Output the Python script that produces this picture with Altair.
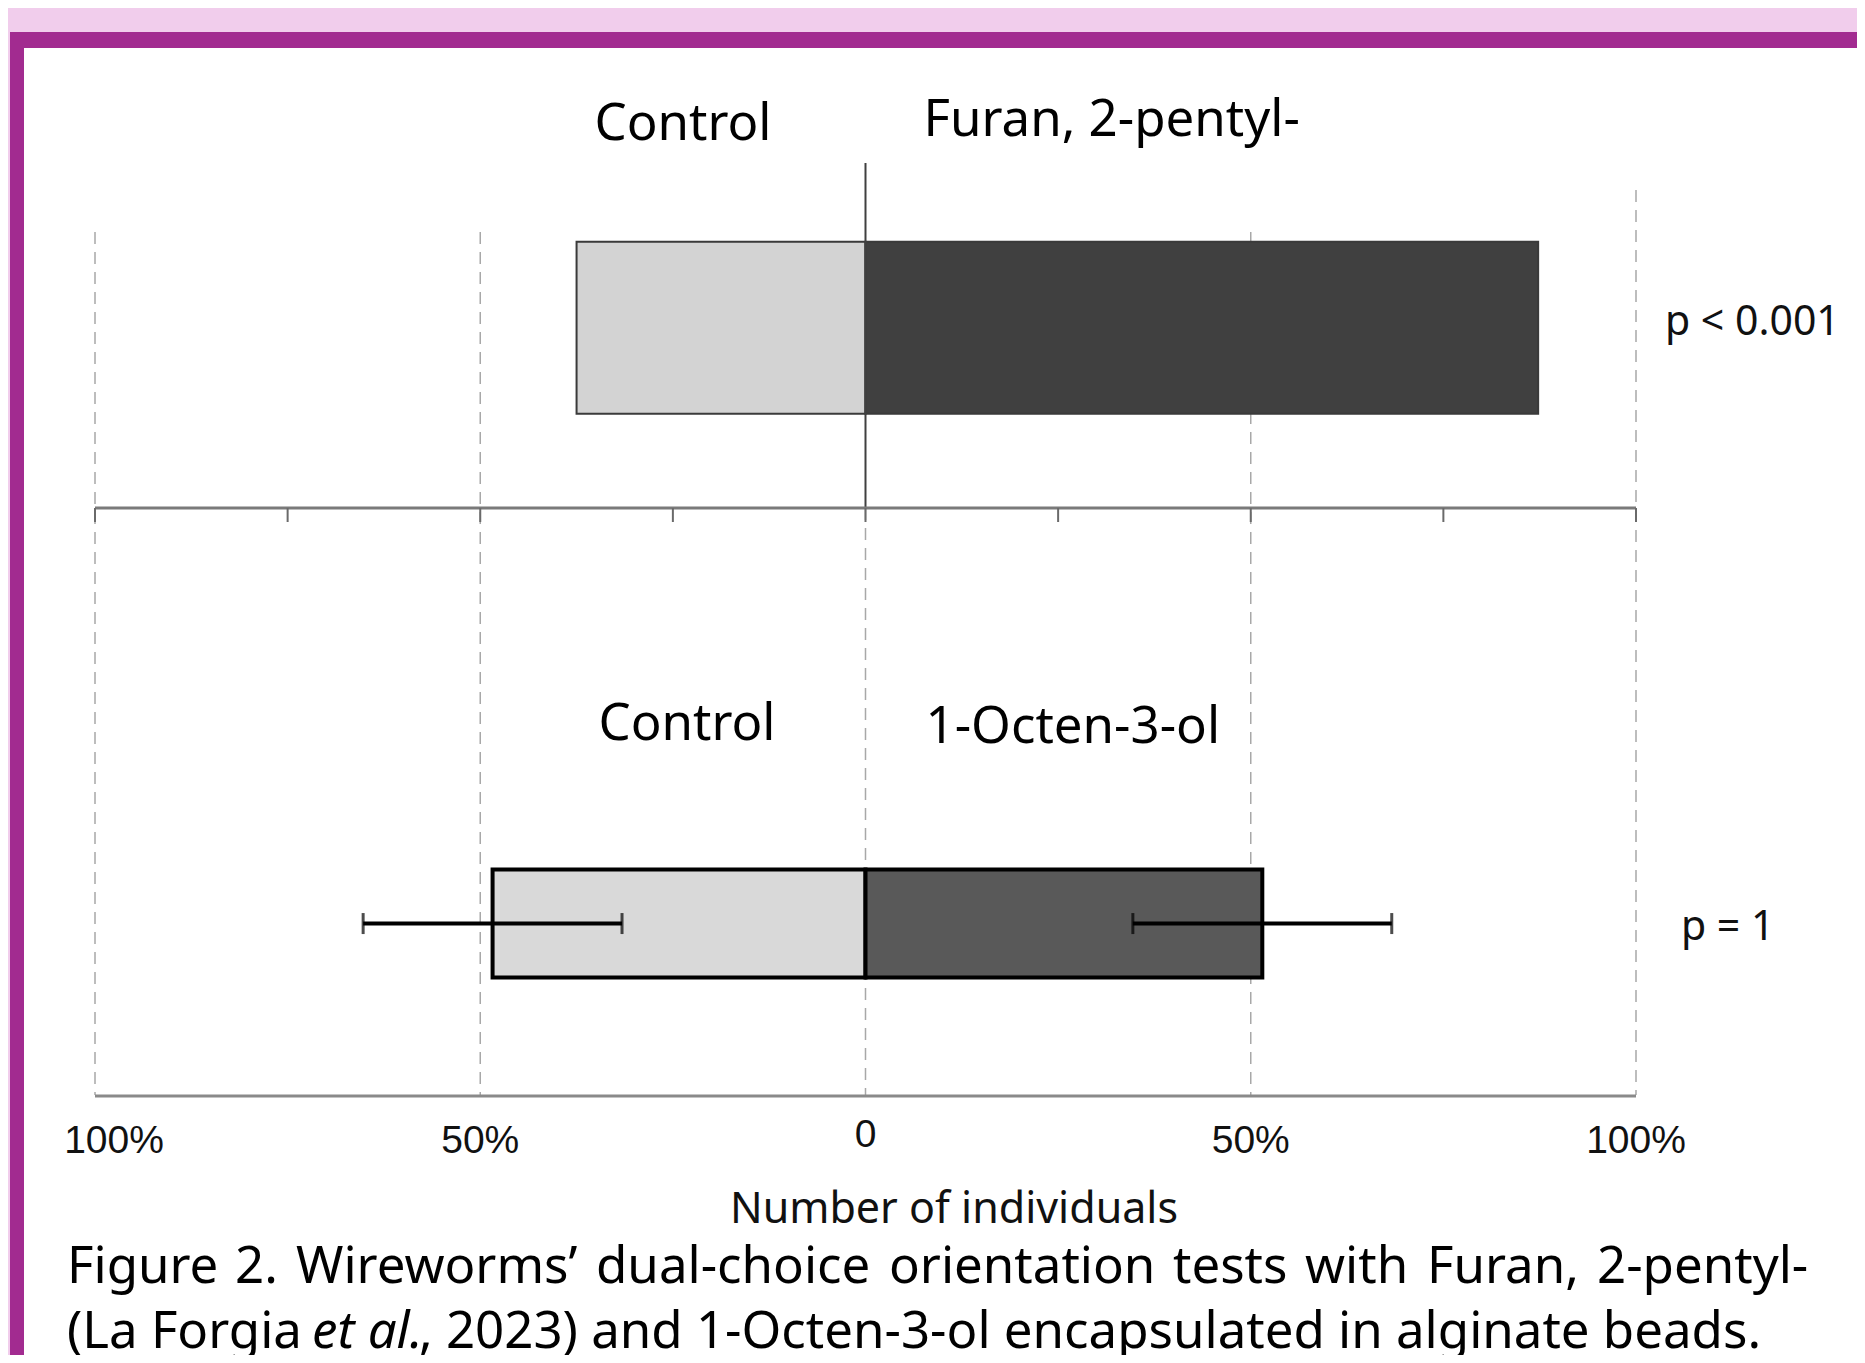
import altair as alt
import pandas as pd

# ---------------- data ----------------
tests = ["Furan, 2-pentyl-", "1-Octen-3-ol"]
control_pct = [37.5, 48.4]
treatment_pct = [87.3, 51.5]
control_sd = [None, 16.8]
treatment_sd = [None, 16.8]
p_labels = ["p < 0.001", "p = 1"]
control_labels = ["Control", "Control"]
axis_ticks = [-100, -75, -50, -25, 0, 25, 50, 75, 100]
grid_values = [-100, -50, 0, 50, 100]
tick_labels = ["100%", "50%", "0", "50%", "100%"]
axis_title = "Number of individuals"
caption_line1 = "Figure 2. Wireworms\u2019 dual-choice orientation tests with Furan, 2-pentyl-"
caption_line2 = ["(La Forgia ", "et al.", ", 2023) and 1-Octen-3-ol encapsulated in alginate beads."]

# layout only: left edge (px) of each word of the justified first caption line
caption_word_x = [59, 227, 288, 588, 881, 1165, 1297, 1419, 1589]

# ---------------- tables ----------------
bar_rows = []
for t, c, tr in zip(tests, control_pct, treatment_pct):
    bar_rows.append({"test": t, "side": "Control", "start": -c, "end": 0, "key": t + "|Control"})
    bar_rows.append({"test": t, "side": "Treatment", "start": 0, "end": tr, "key": t + "|Treatment"})
bars_df = pd.DataFrame(bar_rows)

err_rows = []
for t, c, tr, cs, ts in zip(tests, control_pct, treatment_pct, control_sd, treatment_sd):
    if cs is not None:
        err_rows.append({"test": t, "lo": -(c + cs), "hi": -(c - cs)})
    if ts is not None:
        err_rows.append({"test": t, "lo": tr - ts, "hi": tr + ts})
err_df = pd.DataFrame(err_rows)

label_df = pd.DataFrame({"test": tests, "control": control_labels, "p": p_labels})
tick_df = pd.DataFrame({"v": axis_ticks})
grid_df = pd.DataFrame({"v": grid_values, "label": tick_labels})
extent_df = pd.DataFrame({"lo": [min(grid_values)], "hi": [max(grid_values)]})
text_df = pd.DataFrame({
    "t": [axis_title] + caption_line2,
    "part": ["title", "cap2a", "cap2b", "cap2c"],
})
words_df = pd.DataFrame({"w": caption_line1.split(" "), "px": caption_word_x})

W, H = 1849, 1347
FONT = "Noto Sans"
xs = alt.Scale(domain=[-100, 100], range=[87, 1628], nice=False, zero=False)
ys = alt.Scale(domain=tests, range=[21.7, 1213.5], paddingInner=0, paddingOuter=0)

PINK = "#f1cdec"
PURPLE = "#a22b90"

blank = alt.Chart(extent_df)

# frame decoration
pink_top = blank.mark_rect(color=PINK).encode(
    x=alt.value(0), x2=alt.value(W), y=alt.value(0), y2=alt.value(26))
pink_left = blank.mark_rect(color=PINK).encode(
    x=alt.value(0), x2=alt.value(2), y=alt.value(0), y2=alt.value(H))
purple_top = blank.mark_rect(color=PURPLE).encode(
    x=alt.value(2), x2=alt.value(W), y=alt.value(24), y2=alt.value(40))
purple_left = blank.mark_rect(color=PURPLE).encode(
    x=alt.value(2), x2=alt.value(16), y=alt.value(24), y2=alt.value(H))

XV = alt.X("v:Q", scale=xs, axis=None)
YT = alt.Y("test:N", scale=ys, axis=None)

# gridlines
grid_style = dict(color="#a8a8a8", strokeWidth=1.5, strokeDash=[12, 8])
grid_mid = alt.Chart(grid_df).transform_filter(
    "datum.v == -100 || datum.v == -50 || datum.v == 50").mark_rule(**grid_style).encode(
    x=XV, y=alt.value(224), y2=alt.value(1087))
grid_right = alt.Chart(grid_df).transform_filter("datum.v == 100").mark_rule(**grid_style).encode(
    x=XV, y=alt.value(182), y2=alt.value(1087))
grid_zero = alt.Chart(grid_df).transform_filter("datum.v == 0").mark_rule(**grid_style).encode(
    x=XV, y=alt.value(500), y2=alt.value(1087))

# top axis with ticks
top_axis = blank.mark_rule(color="#7a7a7a", strokeWidth=3).encode(
    x=alt.X("lo:Q", scale=xs, axis=None), x2="hi:Q", y=alt.value(500))
top_ticks = alt.Chart(tick_df).mark_rule(color="#6a6a6a", strokeWidth=2).encode(
    x=XV, y=alt.value(500), y2=alt.value(514))
zero_line = alt.Chart(grid_df).transform_filter("datum.v == 0").mark_rule(
    color="#404040", strokeWidth=2).encode(x=XV, y=alt.value(155), y2=alt.value(500))

# bottom axis
bottom_axis = blank.mark_rule(color="#8a8a8a", strokeWidth=3).encode(
    x=alt.X("lo:Q", scale=xs, axis=None), x2="hi:Q", y=alt.value(1088))

# bars
bar_keys = [tests[0] + "|Control", tests[0] + "|Treatment", tests[1] + "|Control", tests[1] + "|Treatment"]
bar_colors = ["#d3d3d3", "#404040", "#d9d9d9", "#595959"]
bar_enc = dict(
    x=alt.X("start:Q", scale=xs, axis=None),
    x2="end:Q",
    y=YT,
    color=alt.Color("key:N", scale=alt.Scale(domain=bar_keys, range=bar_colors), legend=None),
)
bars_top = alt.Chart(bars_df).transform_filter(alt.datum.test == tests[0]).mark_bar(
    size=172, stroke="#3a3a3a", strokeWidth=2).encode(**bar_enc)
bars_bot = alt.Chart(bars_df).transform_filter(alt.datum.test == tests[1]).mark_bar(
    size=108, stroke="#000000", strokeWidth=4).encode(**bar_enc)

# error bars
err_rule = alt.Chart(err_df).mark_rule(color="#000000", strokeWidth=4).encode(
    x=alt.X("lo:Q", scale=xs, axis=None), x2="hi:Q", y=YT)
err_lo = alt.Chart(err_df).mark_tick(color="#000000", thickness=3, size=21, orient="vertical").encode(
    x=alt.X("lo:Q", scale=xs, axis=None), y=YT)
err_hi = alt.Chart(err_df).mark_tick(color="#000000", thickness=3, size=21, orient="vertical").encode(
    x=alt.X("hi:Q", scale=xs, axis=None), y=YT)

# labels above bars
lbl = alt.Chart(label_df).transform_calculate(zero="0", full="100")
lbl_top = lbl.transform_filter(alt.datum.test == tests[0])
lbl_bot = lbl.transform_filter(alt.datum.test == tests[1])
LB = dict(font=FONT, fontSize=51, baseline="alphabetic", color="#000000")
XZ = alt.X("zero:Q", scale=xs, axis=None)
XF = alt.X("full:Q", scale=xs, axis=None)
ctrl_top = lbl_top.mark_text(align="right", dx=-94, dy=-188, **LB).encode(x=XZ, y=YT, text="control:N")
ctrl_bot = lbl_bot.mark_text(align="right", dx=-90, dy=-184, **LB).encode(x=XZ, y=YT, text="control:N")
test_top = lbl_top.mark_text(align="left", dx=58, dy=-192, **LB).encode(x=XZ, y=YT, text="test:N")
test_bot = lbl_bot.mark_text(align="left", dx=60, dy=-181, **LB).encode(x=XZ, y=YT, text="test:N")
PB = dict(font=FONT, fontSize=41, align="left", baseline="middle", color="#111111")
p_top = lbl_top.mark_text(dx=29, dy=-5, **PB).encode(x=XF, y=YT, text="p:N")
p_bot = lbl_bot.mark_text(dx=45, dy=4, **PB).encode(x=XF, y=YT, text="p:N")

# tick labels
TL = dict(font="Liberation Sans", fontSize=39, align="center", baseline="alphabetic", color="#111111")
tl_mid = alt.Chart(grid_df).transform_filter("datum.v != -100 && datum.v != 0").mark_text(**TL).encode(
    x=XV, y=alt.value(1145), text="label:N")
tl_left = alt.Chart(grid_df).transform_filter("datum.v == -100").mark_text(dx=19, **TL).encode(
    x=XV, y=alt.value(1145), text="label:N")
tl_zero = alt.Chart(grid_df).transform_filter("datum.v == 0").mark_text(**TL).encode(
    x=XV, y=alt.value(1139), text="label:N")

txt = alt.Chart(text_df)
title_text = txt.transform_filter("datum.part == 'title'").mark_text(
    font=FONT, fontSize=43, align="center", baseline="alphabetic", color="#111111").encode(
    x=alt.value(946), y=alt.value(1215), text="t:N")

CAP = dict(font=FONT, fontSize=51, baseline="alphabetic", color="#000000")
def cap(part, x, y, align="left", **kw):
    return txt.transform_filter(f"datum.part == '{part}'").mark_text(align=align, **CAP, **kw).encode(
        x=alt.value(x), y=alt.value(y), text="t:N")

cap1 = alt.Chart(words_df).mark_text(align="left", **CAP).encode(
    x=alt.X("px:Q", scale=None), y=alt.value(1275), text="w:N")
cap2a = cap("cap2a", 59, 1340)
cap2b = cap("cap2b", 304, 1340, fontStyle="italic")
cap2c = cap("cap2c", 411, 1340)

chart = alt.layer(
    pink_top, pink_left, purple_top, purple_left,
    grid_mid, grid_right, grid_zero,
    bars_top, bars_bot, zero_line, top_axis, top_ticks, bottom_axis,
    err_rule, err_lo, err_hi,
    ctrl_top, ctrl_bot, test_top, test_bot, p_top, p_bot,
    tl_mid, tl_left, tl_zero, title_text,
    cap1, cap2a, cap2b, cap2c,
).properties(
    width=W, height=H,
    autosize=alt.AutoSizeParams(type="none"),
    padding=0,
    background="white",
).configure_view(strokeWidth=0)

chart.save("out.html", embed_options={"renderer": "svg", "actions": False})
